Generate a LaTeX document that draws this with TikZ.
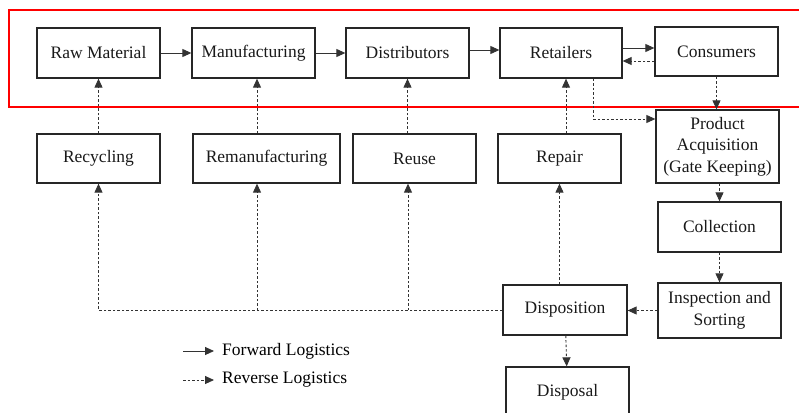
\documentclass[tikz,border=0pt]{standalone}
\usepackage{fontspec}
\setmainfont{Liberation Serif}
\usepackage{tikz}
\usetikzlibrary{arrows.meta, positioning, calc}

\tikzset{
  box/.style={draw=black!85, line width=1.3pt, minimum width=123pt, minimum height=50pt,
    inner sep=2pt, align=center, font=\fontsize{17.5}{21.5}\selectfont, text=black!90},
  fwd/.style={-{Triangle[length=9pt,width=8pt]}, line width=0.9pt, draw=black!80},
  rev/.style={-{Triangle[length=9pt,width=8pt]}, line width=0.9pt, draw=black!80,
    dash pattern=on 2.5pt off 2pt},
}

\begin{document}
\begin{tikzpicture}[x=1pt, y=-1pt]
  \useasboundingbox (0,0) rectangle (799,412);

  % supply chain frame
  \draw[red, line width=1.5pt] (803,10) -- (9,10) -- (9,107) -- (803,107);

  % forward chain
  \node[box] (raw)  at (98.5,53)  {Raw Material};
  \node[box] (manu) at (253.5,53) {Manufacturing};
  \node[box] (dist) at (407.5,53) {Distributors};
  \node[box, minimum width=122pt] (ret) at (561,53) {Retailers};
  \node[box, minimum height=49pt] (cons) at (716.5,51.5) {Consumers};

  % recovery options
  \node[box, minimum height=49pt] (recy)   at (98.5,158.5)  {Recycling};
  \node[box, minimum height=49pt, minimum width=147pt] (reman) at (266.5,158.5) {Remanufacturing};
  \node[box, minimum height=49pt] (reuse)  at (414.5,158.5) {Reuse};
  \node[box, minimum height=49pt] (repair) at (559.5,158.5) {Repair};

  % reverse chain
  \node[box, minimum height=73pt] (acq) at (717.5,146.5) {Product\\Acquisition\\(Gate Keeping)};
  \node[box] (coll) at (719.5,227) {Collection};
  \node[box, minimum height=55pt] (insp) at (719.5,310.5) {Inspection and\\Sorting};
  \node[box, minimum width=124pt] (dispo) at (565,310) {Disposition};
  \node[box] (displ) at (567.5,392) {Disposal};

  % forward flows
  \draw[fwd] (raw) -- (manu);
  \draw[fwd] (manu) -- (dist);
  \draw[fwd] ([yshift=3pt]dist.east) -- ([yshift=3pt]dist.east -| ret.west);
  \draw[fwd] ([yshift=5pt]ret.east) -- ([yshift=5pt]ret.east -| cons.west);

  % reverse flows
  \draw[rev] ([yshift=-8pt]ret.east -| cons.west) -- ([yshift=-8pt]ret.east);
  \draw[rev] (cons.south) -- (cons.south |- acq.north);
  \draw[rev] ([xshift=32pt]ret.south) |- ([yshift=27.5pt]acq.west);
  \draw[rev] (acq.south -| coll.north) -- (coll.north);
  \draw[rev] (coll) -- (insp);
  \draw[rev] (insp.west) -- (insp.west -| dispo.east);
  \draw[rev] (dispo) -- (displ);
  \draw[rev] (dispo.north -| repair.south) -- (repair.south);
  \draw[rev] (dispo.west) -| (recy.south);
  \draw[rev] (dispo.west -| reman.south) ++(-9.5,0) -- ([xshift=-9.5pt]reman.south);
  \draw[rev] (dispo.west -| reuse.south) ++(-6.5,0) -- ([xshift=-6.5pt]reuse.south);

  \draw[rev] (recy) -- (raw);
  \draw[rev] ([xshift=-9.5pt]reman.north) -- ([xshift=-9.5pt]reman.north |- manu.south);
  \draw[rev] (reuse.north -| dist.south) -- (dist.south);
  \draw[rev] ([xshift=6.5pt]repair.north) -- ([xshift=6.5pt]repair.north |- ret.south);

  % legend
  \node[anchor=west, inner sep=0pt, font=\fontsize{17.5}{21}\selectfont] (fwdlbl) at (222,351) {Forward Logistics};
  \node[anchor=west, inner sep=0pt, font=\fontsize{17.5}{21}\selectfont] (revlbl) at (222,380) {Reverse Logistics};
  \draw[fwd] ([xshift=-39pt]fwdlbl.west) -- ([xshift=-8pt]fwdlbl.west);
  \draw[rev] ([xshift=-39pt]revlbl.west) -- ([xshift=-8pt]revlbl.west);
\end{tikzpicture}
\end{document}
